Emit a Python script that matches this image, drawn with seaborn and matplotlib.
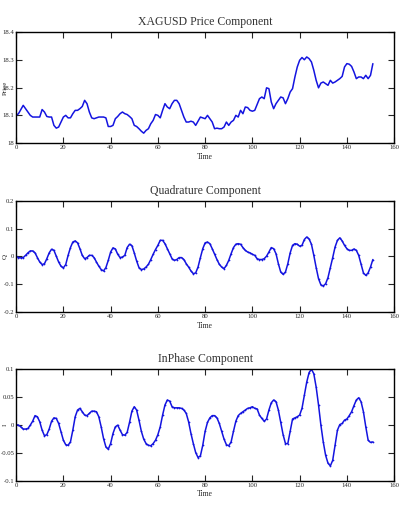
"""Price, quadrature and in-phase components of XAGUSD (Hilbert transform style figure)."""
# %%
import matplotlib
matplotlib.use('Agg')
import matplotlib.pyplot as plt
import seaborn as sns
import pandas as pd
import numpy as np

# %%
# Values, one per time step 0..151
price = [18.100, 18.106, 18.121, 18.136, 18.124, 18.112, 18.100, 18.094, 18.094, 18.094,
         18.094, 18.121, 18.112, 18.096, 18.094, 18.094, 18.064, 18.054, 18.058, 18.076,
         18.094, 18.100, 18.091, 18.091, 18.106, 18.118, 18.118, 18.124, 18.132, 18.154,
         18.142, 18.112, 18.091, 18.088, 18.091, 18.094, 18.094, 18.094, 18.091, 18.060,
         18.060, 18.064, 18.088, 18.096, 18.106, 18.112, 18.106, 18.103, 18.096, 18.088,
         18.064, 18.060, 18.052, 18.043, 18.036, 18.046, 18.052, 18.070, 18.082, 18.103,
         18.100, 18.091, 18.118, 18.142, 18.130, 18.124, 18.142, 18.154, 18.154, 18.142,
         18.118, 18.094, 18.076, 18.076, 18.079, 18.076, 18.064, 18.079, 18.094, 18.091,
         18.088, 18.100, 18.088, 18.076, 18.052, 18.054, 18.052, 18.052, 18.058, 18.076,
         18.064, 18.076, 18.082, 18.100, 18.094, 18.118, 18.106, 18.130, 18.128, 18.118,
         18.115, 18.118, 18.139, 18.160, 18.166, 18.160, 18.199, 18.196, 18.148, 18.124,
         18.142, 18.154, 18.166, 18.163, 18.142, 18.160, 18.184, 18.196, 18.238, 18.274,
         18.298, 18.308, 18.300, 18.310, 18.304, 18.292, 18.262, 18.226, 18.199, 18.216,
         18.220, 18.214, 18.208, 18.226, 18.216, 18.220, 18.226, 18.232, 18.240, 18.274,
         18.286, 18.284, 18.276, 18.256, 18.232, 18.238, 18.238, 18.232, 18.244, 18.232,
         18.244, 18.286]

quadrature = [0.001, -0.004, -0.005, -0.004, 0.004, 0.013, 0.020, 0.020, 0.013, -0.004,
              -0.020, -0.029, -0.026, -0.008, 0.013, 0.026, 0.022, 0.001, -0.020, -0.035,
              -0.041, -0.029, 0.004, 0.032, 0.052, 0.056, 0.049, 0.028, 0.004, -0.008,
              -0.004, 0.004, 0.004, -0.004, -0.020, -0.035, -0.047, -0.052, -0.040, -0.014,
              0.016, 0.031, 0.027, 0.008, -0.004, -0.002, 0.004, 0.032, 0.044, 0.039,
              0.013, -0.016, -0.040, -0.047, -0.045, -0.038, -0.028, -0.011, 0.008, 0.025,
              0.040, 0.058, 0.058, 0.046, 0.028, 0.010, -0.008, -0.014, -0.011, -0.004,
              -0.004, -0.011, -0.026, -0.038, -0.052, -0.062, -0.059, -0.038, -0.004, 0.028,
              0.049, 0.052, 0.046, 0.028, 0.008, -0.011, -0.028, -0.038, -0.044, -0.032,
              -0.014, 0.010, 0.032, 0.044, 0.046, 0.044, 0.032, 0.022, 0.016, 0.013,
              0.008, 0.004, -0.008, -0.011, -0.011, -0.008, 0.001, 0.016, 0.032, 0.028,
              0.010, -0.026, -0.056, -0.064, -0.056, -0.026, 0.013, 0.040, 0.046, 0.044,
              0.037, 0.040, 0.061, 0.070, 0.063, 0.044, 0.004, -0.040, -0.080, -0.102,
              -0.106, -0.098, -0.076, -0.040, -0.004, 0.034, 0.058, 0.067, 0.056, 0.040,
              0.028, 0.022, 0.022, 0.027, 0.022, 0.004, -0.028, -0.059, -0.068, -0.059,
              -0.038, -0.011]

inphase = [0.001, 0.000, -0.003, -0.007, -0.007, -0.006, 0.000, 0.007, 0.017, 0.015,
           0.006, -0.009, -0.019, -0.017, -0.007, 0.007, 0.013, 0.012, 0.003, -0.012,
           -0.027, -0.035, -0.036, -0.030, -0.009, 0.015, 0.027, 0.030, 0.024, 0.018,
           0.017, 0.021, 0.025, 0.025, 0.024, 0.015, -0.003, -0.024, -0.039, -0.043,
           -0.033, -0.015, -0.003, 0.000, -0.009, -0.017, -0.018, -0.013, 0.005, 0.025,
           0.033, 0.027, 0.009, -0.011, -0.025, -0.033, -0.036, -0.037, -0.033, -0.027,
           -0.017, -0.003, 0.018, 0.036, 0.045, 0.043, 0.033, 0.031, 0.031, 0.031,
           0.030, 0.027, 0.021, 0.006, -0.015, -0.033, -0.049, -0.058, -0.055, -0.036,
           -0.011, 0.005, 0.013, 0.017, 0.017, 0.013, 0.003, -0.011, -0.025, -0.035,
           -0.037, -0.030, -0.011, 0.007, 0.017, 0.021, 0.024, 0.027, 0.030, 0.031,
           0.033, 0.030, 0.029, 0.018, 0.012, 0.007, 0.011, 0.027, 0.040, 0.045,
           0.042, 0.027, 0.005, -0.017, -0.033, -0.033, -0.011, 0.011, 0.013, 0.015,
           0.018, 0.030, 0.054, 0.077, 0.094, 0.100, 0.092, 0.068, 0.036, 0.000,
           -0.030, -0.054, -0.068, -0.073, -0.063, -0.036, -0.009, 0.001, 0.003, 0.009,
           0.011, 0.017, 0.024, 0.035, 0.045, 0.049, 0.042, 0.024, -0.003, -0.027,
           -0.031, -0.030]

t = np.arange(len(price))

# %%
sns.set_style('ticks')
plt.rcParams['font.family'] = ['Liberation Serif', 'DejaVu Serif']
blue = '#1414e0'

fig = plt.figure(figsize=(4.03, 5.15), dpi=100)
boxes = [[0.040, 0.722, 0.938, 0.216],
         [0.040, 0.394, 0.938, 0.216],
         [0.040, 0.066, 0.938, 0.217]]

panels = [
    ('XAGUSD Price Component', price, 'Price', (18.0, 18.4), [18.0, 18.1, 18.2, 18.3, 18.4],
     ['18', '18.1', '18.2', '18.3', '18.4'], None),
    ('Quadrature Component', quadrature, 'Q', (-0.2, 0.2), [-0.2, -0.1, 0, 0.1, 0.2],
     ['-0.2', '-0.1', '0', '0.1', '0.2'], '.'),
    ('InPhase Component', inphase, 'I', (-0.1, 0.1), [-0.1, -0.05, 0, 0.05, 0.1],
     ['-0.1', '-0.05', '0', '0.05', '0.1'], '.'),
]

for box, (title, vals, ylab, ylim, yt, ytl, mk) in zip(boxes, panels):
    ax = fig.add_axes(box)
    df = pd.DataFrame({'Time': t, 'val': vals})
    sns.lineplot(data=df, x='Time', y='val', ax=ax, color=blue, linewidth=1.1,
                 marker=mk, markersize=2.5, markeredgewidth=0)

    ax.set_xlim(0, 160)
    ax.set_ylim(*ylim)
    ax.set_xticks(np.arange(0, 161, 20))
    ax.set_xticklabels([str(v) for v in range(0, 161, 20)])
    ax.set_yticks(yt)
    ax.set_yticklabels(ytl)
    ax.tick_params(direction='in', length=4, width=0.8, labelsize=4.8, pad=1.2,
                   top=True, right=True)
    for s in ax.spines.values():
        s.set_visible(True)
        s.set_linewidth(1.0)
        s.set_color('black')

    ax.set_title(title, fontsize=8.5, pad=5, color='#333333')
    ax.set_xlabel('Time', fontsize=5.5, labelpad=2)
    ax.set_ylabel(ylab, fontsize=5, labelpad=0)
    # label sits over the tick labels, as in the original
    ax.yaxis.set_label_coords(-0.022, 0.5)

plt.savefig('out.png', dpi=100)
